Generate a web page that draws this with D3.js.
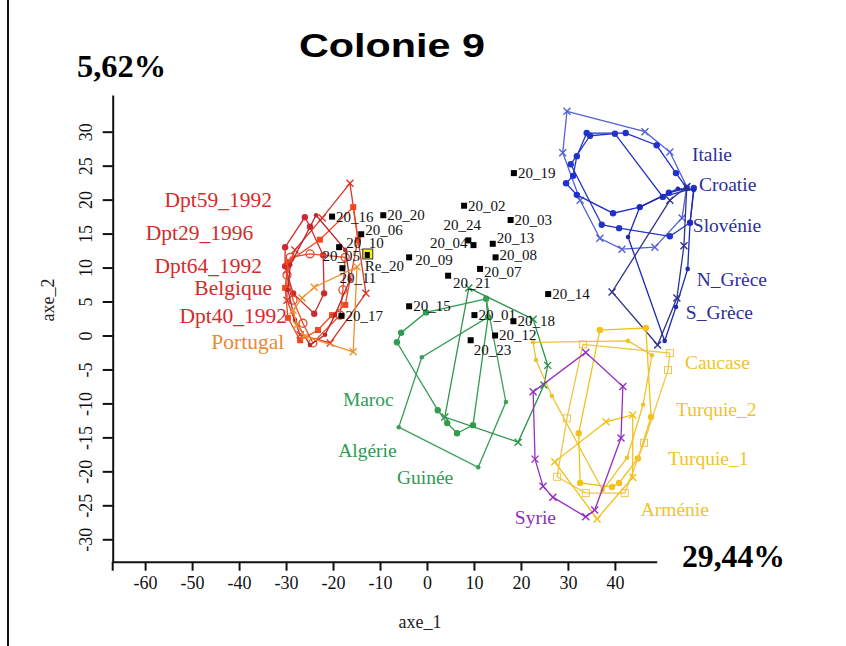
<!DOCTYPE html>
<html><head><meta charset="utf-8">
<script src="https://cdn.jsdelivr.net/npm/d3@7"></script>
<style>body{margin:0;background:#fff}</style>
</head><body><svg id="c" width="846" height="646"></svg>
<script>
// ---------- data ----------
const xTicks = [-60,-50,-40,-30,-20,-10,0,10,20,30,40];
const yTicks = [-30,-25,-20,-15,-10,-5,0,5,10,15,20,25,30];
const axis1Inertia = "29,44%";
const axis2Inertia = "5,62%";

// polygons (axe_1, axe_2)
const dpt59_1992 = [[-16.4,22.4],[-13.0,6.2],[-20.6,-1.1],[-27.0,0.1],[-29.8,5.2],[-29.8,9.6],[-28.1,12.6],[-22.3,17.3]];
const dpt29_1996 = [[-26.0,17.4],[-24.9,16.0],[-22.1,11.8],[-21.9,6.2],[-24.0,3.2],[-28.5,6.2],[-30.2,10.2],[-30.2,13.0]];
const dpt64_1992 = [[-15.7,18.9],[-14.7,14.1],[-17.4,4.5],[-20.2,3.0],[-23.2,0.8],[-27.0,-0.7],[-29.6,2.6],[-30.2,7.0],[-29.6,10.8],[-22.8,14.1]];
const belgique   = [[-29.1,11.5],[-24.9,12.0],[-17.4,11.5],[-17.9,6.7],[-18.5,3.0],[-24.3,-1.1],[-26.4,1.8],[-28.5,5.2],[-29.8,8.9]];
const dpt40_1992 = [[-23.6,17.7],[-17.4,12.6],[-16.4,8.2],[-19.6,3.0],[-21.7,0.1],[-24.9,-1.4],[-28.1,2.3],[-29.6,6.7],[-29.1,10.4]];
const portugal   = [[-14.9,10.1],[-24.0,7.1],[-26.6,5.5],[-28.5,3.7],[-27.7,1.5],[-26.0,-0.1],[-15.7,-2.4]];

const italie   = [[29.8,33.0],[46.4,30.0],[51.7,27.0],[55.3,21.9],[54.3,17.3],[48.5,13.0],[41.5,12.7],[36.8,14.3],[32.6,19.9],[28.9,26.9]];
const croatie  = [[34.0,29.8],[42.3,29.8],[48.9,28.0],[53.0,23.9],[55.3,21.7],[51.5,21.0],[45.3,18.9],[39.6,18.0],[31.9,20.7],[29.6,22.4],[31.1,23.5],[31.9,26.4]];
const slovenie = [[34.7,29.4],[40.0,29.7],[50.2,20.4],[56.8,21.7],[56.0,16.6],[51.7,14.6],[40.9,15.8],[37.2,16.3],[30.6,25.2]];
const nGrece   = [[45.3,18.9],[42.8,14.5],[50.6,-0.8],[53.0,4.2],[55.5,9.8],[56.0,16.6],[56.8,21.4],[53.4,21.6]];
const sGrece   = [[51.7,19.9],[39.4,6.4],[49.1,-1.4],[53.2,5.5],[54.7,13.2],[55.3,21.9]];

const maroc   = [[12.6,5.4],[-0.2,3.4],[-5.5,0.4],[-6.4,-1.0],[2.3,-11.0],[4.3,-12.9],[6.4,-14.4],[9.8,-13.2],[13.0,2.7]];
const algerie = [[13.0,2.7],[-1.1,-3.2],[-6.0,-13.5],[10.9,-19.4],[16.8,-9.8],[12.6,5.4]];
const guinee  = [[8.9,7.0],[22.6,2.4],[25.7,-4.4],[24.9,-7.3],[19.4,-15.7],[3.8,-12.0]];

const turquie1 = [[36.8,0.8],[46.6,1.1],[47.7,-12.0],[44.9,-18.1],[40.9,-21.7],[39.4,-22.3],[32.6,-21.7],[32.3,-14.4]];
const turquie2 = [[22.6,-1.0],[23.2,-3.6],[26.6,-8.9],[37.4,-22.8],[42.6,-18.0],[46.0,-10.2],[47.9,-2.9],[42.8,-0.8]];
const caucase  = [[33.2,-1.3],[51.7,-2.6],[51.3,-5.1],[46.2,-15.8],[42.1,-23.2],[33.8,-23.2],[27.7,-20.8],[29.8,-12.2]];
const armenie  = [[43.8,-11.7],[38.1,-12.7],[27.2,-18.6],[36.2,-27.0],[43.8,-20.9]];
const syrie    = [[33.8,-2.5],[41.7,-7.5],[41.3,-15.1],[35.7,-25.7],[33.8,-26.7],[26.8,-23.8],[24.7,-22.2],[23.0,-18.2],[22.6,-8.3]];

// supplementary individuals
const colonyNames = ["20_19","20_16","20_20","20_06","20_10","20_05","20_11","20_17","20_09","20_02","20_03","20_24","20_04","20_13","20_08","20_07","20_21","20_14","20_15","20_01","20_18","20_12","20_23"];
const colonyX = [18.5,-20.2,-9.3,-14.0,-18.7,-13.0,-18.0,-18.2,-3.8,7.9,17.8,8.8,9.9,14.0,14.6,11.3,4.5,25.8,-3.8,10.1,18.4,14.5,9.3];
const colonyY = [23.9,17.5,17.7,14.9,13.0,11.7,9.9,2.9,11.5,19.1,17.0,14.0,13.3,13.5,11.5,9.8,8.8,6.1,4.3,3.0,2.1,0.0,-0.7];
const refName = "Re_20";
const refX = -12.6, refY = 12.0;

// group labels (name, anchor point in axis units)
const groupLabels = [
  ["Dpt59_1992",-33.0,18.9],["Dpt29_1996",-37.0,14.0],["Dpt64_1992",-35.1,9.2],["Belgique",-33.0,6.0],["Dpt40_1992",-29.8,1.8],["Portugal",-30.4,-2.0],
  ["Italie",56.4,25.7],["Croatie",57.9,21.3],["Slovénie",56.6,15.2],["N_Grèce",57.4,7.3],["S_Grèce",55.1,2.4],
  ["Maroc",-17.9,-10.4],["Algérie",-18.9,-17.9],["Guinée",-6.4,-21.9],
  ["Caucase",54.9,-5.0],["Turquie_2",53.0,-11.9],["Turquie_1",51.3,-19.1],["Arménie",45.5,-26.6],["Syrie",18.7,-27.8]
];

// ---------- styles ----------
const polyStyles = [
  {d:dpt59_1992, c:"#d9382b", m:"x"},
  {d:dpt29_1996, c:"#cc2a2e", m:"dot"},
  {d:dpt64_1992, c:"#f2461e", m:"square"},
  {d:belgique,   c:"#e9482a", m:"ocircle"},
  {d:dpt40_1992, c:"#b9282b", m:"sdot"},
  {d:portugal,   c:"#f0902c", m:"x"},
  {d:italie,   c:"#5261d8", m:"x"},
  {d:croatie,  c:"#1f30d2", m:"dot"},
  {d:slovenie, c:"#2435c6", m:"dot"},
  {d:nGrece,   c:"#1b29b4", m:"sdot"},
  {d:sGrece,   c:"#2f338e", m:"x"},
  {d:maroc,   c:"#2f9c50", m:"dot"},
  {d:algerie, c:"#3c9f5c", m:"sdot"},
  {d:guinee,  c:"#2a9447", m:"x"},
  {d:turquie1, c:"#f3c11a", m:"dot"},
  {d:turquie2, c:"#f0c22e", m:"sdot"},
  {d:caucase,  c:"#efc64a", m:"osquare"},
  {d:armenie,  c:"#f4bf12", m:"x"},
  {d:syrie,    c:"#9631c2", m:"x"}
];
const isRed = n => /^Dpt|Belgique|Portugal/.test(n);
const labelColor = n => /^Dpt|Belgique/.test(n) ? "#d42b2b" : n==="Portugal" ? "#e98a2e" :
  /Italie|Croatie|Slov|Grèce/.test(n) ? "#2e309a" : /Maroc|Alg|Guin/.test(n) ? "#2f9a55" :
  n==="Syrie" ? "#8f2fb8" : "#eec42e";
// placement of colony labels: [dx, dy, anchor]
const colonyLabelPlace = {"20_24":[-6,-10,"middle"],"20_04":[-6,3,"end"],"20_05":[-6,5,"end"],
  "20_11":[-3,15,"start"],"20_21":[5,12,"start"],"20_23":[3,15,"start"],"20_09":[6,8,"start"],"20_10":[7,1,"start"],
  "20_06":[4,1,"start"],"20_13":[4,-1,"start"],"20_08":[4,3,"start"],"20_07":[4,8,"start"]};

// ---------- drawing ----------
const svg = d3.select("#c");
const W=846,H=646;
const x = d3.scaleLinear().domain([-66.9,48.9]).range([112.7,656.7]);
const y = d3.scaleLinear().domain([-33.3,35.4]).range([561.7,95]);
const serif = "'Liberation Serif','Times New Roman',serif";

// left frame line
svg.append("line").attr("x1",8).attr("x2",8).attr("y1",0).attr("y2",H).attr("stroke","#111").attr("stroke-width",2);

// title & inertia
svg.append("text").attr("x",392).attr("y",57).attr("text-anchor","middle")
  .attr("font-family","'Liberation Sans',Arial,sans-serif").attr("font-weight","bold").attr("font-size",34)
  .attr("textLength",186).attr("lengthAdjust","spacingAndGlyphs").text("Colonie 9");
svg.append("text").attr("x",77).attr("y",77).attr("font-family",serif).attr("font-weight","bold").attr("font-size",32)
  .attr("textLength",89).attr("lengthAdjust","spacingAndGlyphs").text(axis2Inertia);
svg.append("text").attr("x",682).attr("y",567).attr("font-family",serif).attr("font-weight","bold").attr("font-size",32)
  .attr("textLength",103).attr("lengthAdjust","spacingAndGlyphs").text(axis1Inertia);

// axes
const fmt = d => String(d);
const gx = svg.append("g").attr("transform",`translate(0,${y(-33.3)})`)
  .call(d3.axisBottom(x).tickValues(xTicks).tickSize(9).tickSizeOuter(0).tickFormat(fmt));
gx.selectAll("text").attr("font-family",serif).attr("font-size",18).attr("y",15).attr("fill","#111");
const gy = svg.append("g").attr("transform",`translate(${x(-66.9)},0)`)
  .call(d3.axisLeft(y).tickValues(yTicks).tickSize(10).tickSizeOuter(0).tickFormat(fmt));
gy.selectAll(".tick text").attr("font-family",serif).attr("font-size",18).attr("transform","rotate(-90)")
  .attr("x",0).attr("y",-27).attr("dy","0.35em").style("text-anchor","middle").attr("fill","#111");
[gx,gy].forEach(g=>{g.selectAll("path,line").attr("stroke","#111").attr("stroke-width",2);});
// extend the vertical axis slightly below the horizontal one
svg.append("line").attr("x1",x(-66.9)).attr("x2",x(-66.9)).attr("y1",y(-33.3)).attr("y2",y(-33.3)+9)
  .attr("stroke","#111").attr("stroke-width",2);

svg.append("text").attr("x",420).attr("y",628).attr("text-anchor","middle").attr("font-family",serif)
  .attr("font-size",18).attr("fill","#222").text("axe_1");
svg.append("text").attr("transform","translate(54,300) rotate(-90)").attr("text-anchor","middle").attr("font-family",serif)
  .attr("font-size",18).attr("fill","#222").text("axe_2");

// polygons
const line = d3.line().x(d=>x(d[0])).y(d=>y(d[1])).curve(d3.curveLinearClosed);
const gp = svg.append("g");
polyStyles.forEach(p=>{
  gp.append("path").attr("d",line(p.d)).attr("fill","none").attr("stroke",p.c).attr("stroke-width",1.3);
  const g = gp.append("g");
  p.d.forEach(pt=>{
    const cx=x(pt[0]), cy=y(pt[1]);
    if(p.m==="dot") g.append("circle").attr("cx",cx).attr("cy",cy).attr("r",3.2).attr("fill",p.c);
    else if(p.m==="sdot") g.append("circle").attr("cx",cx).attr("cy",cy).attr("r",2.3).attr("fill",p.c);
    else if(p.m==="ocircle") g.append("circle").attr("cx",cx).attr("cy",cy).attr("r",4).attr("fill","none").attr("stroke",p.c).attr("stroke-width",1.3);
    else if(p.m==="square") g.append("rect").attr("x",cx-3).attr("y",cy-3).attr("width",6).attr("height",6).attr("fill",p.c);
    else if(p.m==="osquare") g.append("rect").attr("x",cx-3.5).attr("y",cy-3.5).attr("width",7).attr("height",7).attr("fill","none").attr("stroke",p.c).attr("stroke-width",1);
    else { const s=3.5; g.append("path").attr("d",`M${cx-s},${cy-s}L${cx+s},${cy+s}M${cx-s},${cy+s}L${cx+s},${cy-s}`).attr("stroke",p.c).attr("stroke-width",1.4); }
  });
});

// colony points
const gc = svg.append("g");
colonyNames.forEach((n,i)=>{
  const cx=x(colonyX[i]), cy=y(colonyY[i]);
  gc.append("rect").attr("x",cx-3).attr("y",cy-3).attr("width",6).attr("height",6).attr("fill","#000");
  const pl = colonyLabelPlace[n] || [4,5,"start"];
  gc.append("text").attr("x",cx+pl[0]).attr("y",cy+pl[1]).attr("text-anchor",pl[2])
    .attr("font-family",serif).attr("font-size",15).attr("fill","#111").text(n);
});
// reference colony
{
  const cx=x(refX), cy=y(refY);
  gc.append("rect").attr("x",cx-5).attr("y",cy-5).attr("width",10).attr("height",10).attr("fill","#f3f01a").attr("stroke","#333").attr("stroke-width",1);
  gc.append("rect").attr("x",cx-3).attr("y",cy-2).attr("width",5).attr("height",6).attr("fill","#000");
  gc.append("text").attr("x",cx-3).attr("y",cy+17).attr("font-family",serif).attr("font-size",15).attr("fill","#111").text(refName);
}

// group labels
svg.append("g").selectAll("text").data(groupLabels).join("text")
  .attr("x",d=>x(d[1])).attr("y",d=>y(d[2])).attr("text-anchor",d=>isRed(d[0]) ? "end" : "start")
  .attr("font-family",serif).attr("font-size",d=>isRed(d[0]) ? 21.5 : 19.5).attr("fill",d=>labelColor(d[0])).text(d=>d[0]);
</script></body></html>
